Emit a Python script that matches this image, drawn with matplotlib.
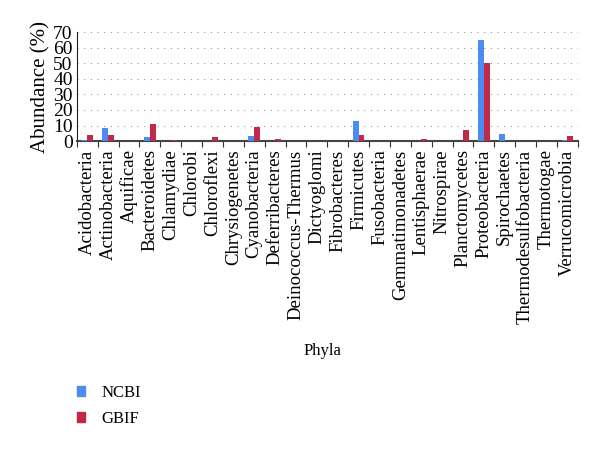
import numpy as np
import matplotlib
matplotlib.use("Agg")
import matplotlib.pyplot as plt
from matplotlib.patches import Patch

phyla = ["Acidobacteria", "Actinobacteria", "Aquificae", "Bacteroidetes", "Chlamydiae",
         "Chlorobi", "Chloroflexi", "Chrysiogenetes", "Cyanobacteria", "Deferribacteres",
         "Deinococcus-Thermus", "Dictyoglomi", "Fibrobacteres", "Firmicutes", "Fusobacteria",
         "Gemmatimonadetes", "Lentisphaerae", "Nitrospirae", "Planctomycetes", "Proteobacteria",
         "Spirochaetes", "Thermodesulfobacteria", "Thermotogae", "Verrucomicrobia"]
ncbi = [0.9, 8.2, 0.0, 2.8, 0.0, 0.0, 0.0, 0.0, 3.2, 0.0, 0.0, 0.0, 0.0, 12.7, 0.0,
        0.0, 0.0, 0.0, 0.3, 64.6, 4.3, 0.0, 0.0, 0.8]
gbif = [4.1, 4.0, 0.0, 11.2, 0.5, 0.0, 2.4, 0.0, 9.0, 1.7, 0.0, 0.0, 0.0, 4.1, 0.0,
        0.4, 1.2, 0.0, 6.9, 50.0, 0.0, 0.0, 0.0, 3.0]

blue = "#4a8cf0"
red = "#c02a48"
serif = ["Liberation Serif", "DejaVu Serif"]
plt.rcParams["font.family"] = serif

fig = plt.figure(figsize=(6, 4.51), dpi=100)
ax = fig.add_axes([0.128, 0.687, 0.835, 0.242])

x = np.arange(len(phyla))
w = 0.28
ax.bar(x - w / 2, ncbi, w, color=blue, zorder=3)
ax.bar(x + w / 2, gbif, w, color=red, zorder=3)

ax.set_xlim(-0.5, len(phyla) - 0.5)
ax.set_ylim(0, 70)
ax.set_yticks(range(0, 71, 10))
ax.tick_params(axis="y", length=0, labelsize=14, pad=3)
ax.yaxis.grid(True, linestyle=(0, (1, 5)), color="#999999", linewidth=0.8)
ax.set_axisbelow(True)

# category labels, ticks at boundaries
ax.set_xticks(x)
ax.set_xticklabels(phyla, rotation=90, fontsize=13.5)
ax.tick_params(axis="x", which="major", length=0, pad=6)
ax.set_xticks(np.arange(-0.5, len(phyla), 1), minor=True)
ax.tick_params(axis="x", which="minor", length=4, width=0.8, color="#333333", direction="out")

for s in ["top", "right"]:
    ax.spines[s].set_visible(False)
ax.spines["left"].set_color("#222222")
ax.spines["bottom"].set_color("#444444")
ax.spines["bottom"].set_linewidth(1.5)

ax.set_ylabel("Abundance (%)", fontsize=15, labelpad=2)
fig.text(0.537, 0.222, "Phyla", ha="center", va="center", fontsize=12)

handles = [Patch(color=blue, label="NCBI"), Patch(color=red, label="GBIF")]
fig.legend(handles=handles, loc="upper left", bbox_to_anchor=(0.103, 0.18),
           frameon=False, fontsize=12, handlelength=0.5, handleheight=0.5,
           handletextpad=1.0, labelspacing=0.6)

fig.savefig("out.png", dpi=100)
